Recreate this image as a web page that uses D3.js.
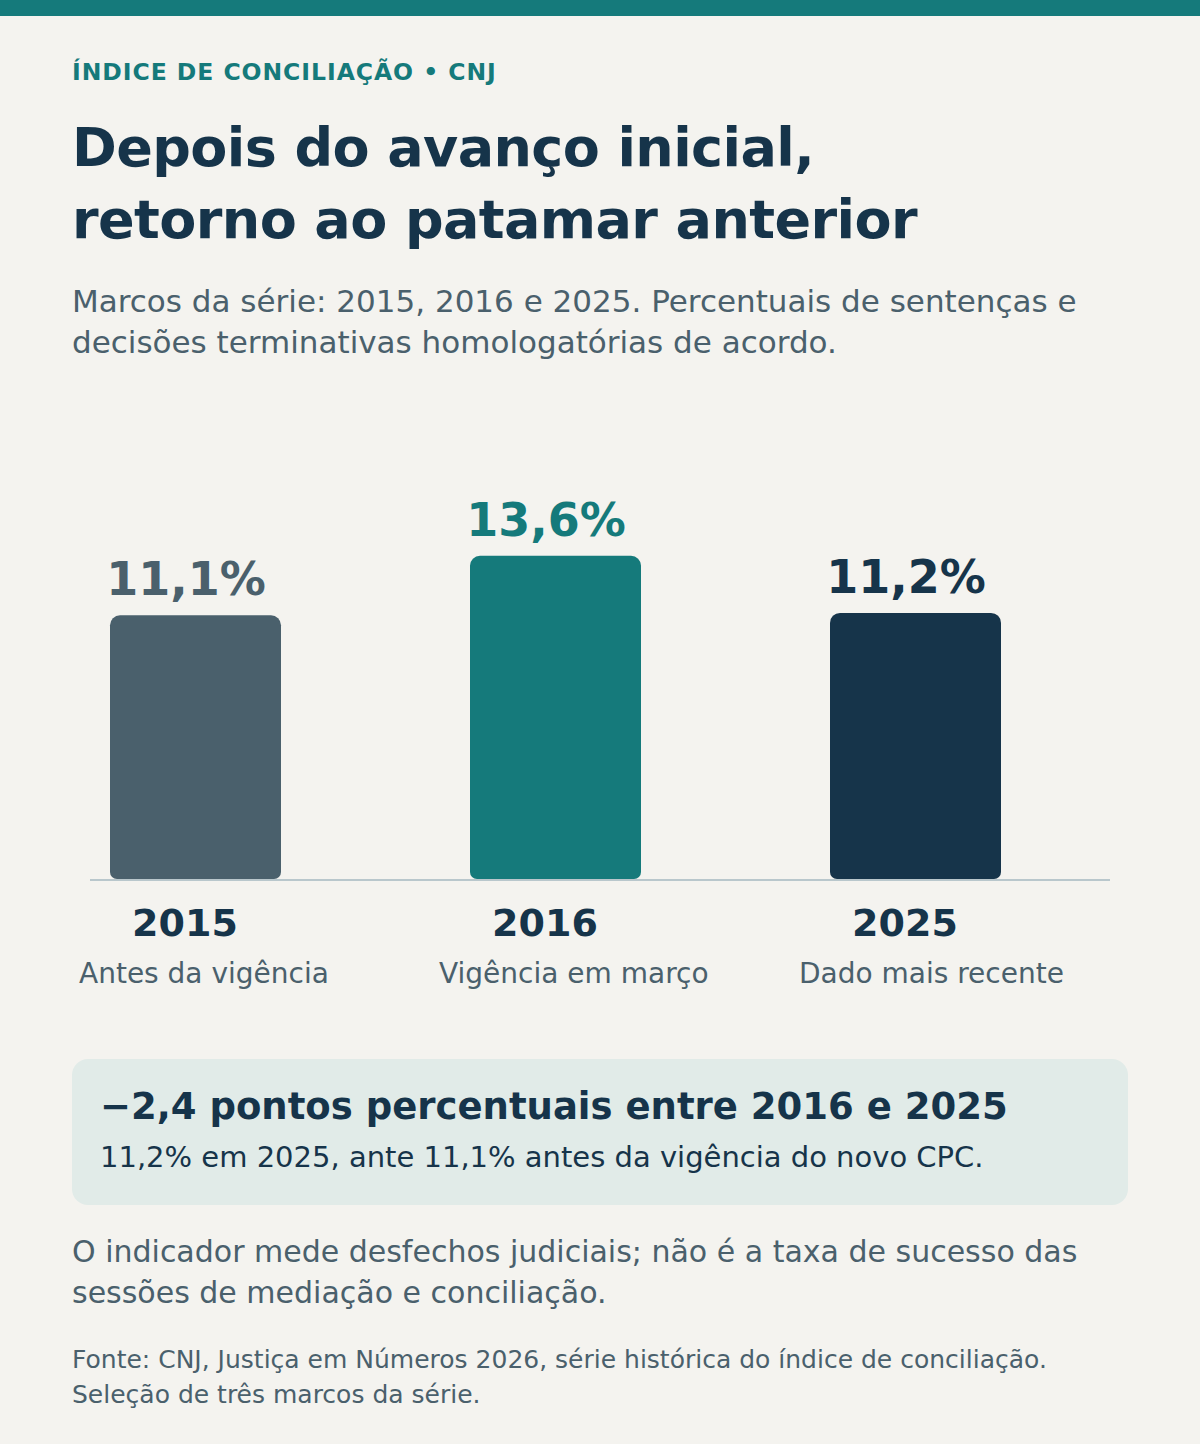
<!DOCTYPE html>
<html lang="pt-BR">
<head>
<meta charset="utf-8">
<script src="https://cdn.jsdelivr.net/npm/d3@7"></script>
<style>
  html, body { margin: 0; padding: 0; background: #f4f3ef; }
  svg { display: block; font-family: "DejaVu Sans", sans-serif; }
</style>
</head>
<body>
<script>
// ---- data ----
const years = ["2015", "2016", "2025"];
const values = [11.1, 13.6, 11.2];
const subLabels = ["Antes da vigência", "Vigência em março", "Dado mais recente"];
const barColors = ["#4a606c", "#157a7b", "#16344a"];

const kicker = "ÍNDICE DE CONCILIAÇÃO • CNJ";
const titleLines = ["Depois do avanço inicial,", "retorno ao patamar anterior"];
const subtitleLines = [
  "Marcos da série: 2015, 2016 e 2025. Percentuais de sentenças e",
  "decisões terminativas homologatórias de acordo."
];
const noteLines = [
  "O indicador mede desfechos judiciais; não é a taxa de sucesso das",
  "sessões de mediação e conciliação."
];
const sourceLines = [
  "Fonte: CNJ, Justiça em Números 2026, série histórica do índice de conciliação.",
  "Seleção de três marcos da série."
];

const W = 1200, H = 1444;
const fmt = v => v.toFixed(1).replace(".", ",");

const svg = d3.select("body").append("svg")
  .attr("width", W).attr("height", H).attr("viewBox", `0 0 ${W} ${H}`);

svg.append("rect").attr("width", W).attr("height", H).attr("fill", "#f4f3ef");
svg.append("rect").attr("width", W).attr("height", 16).attr("fill", "#157a7b");

// header
svg.append("text").attr("x", 72).attr("y", 80)
  .attr("font-size", 23.5).attr("font-weight", "bold").attr("letter-spacing", "0.95px")
  .attr("fill", "#157a7b").text(kicker);

svg.append("g").selectAll("text").data(titleLines).join("text")
  .attr("x", 72).attr("y", (d, i) => 166 + i * 72)
  .attr("font-size", 54).attr("font-weight", "bold").attr("letter-spacing", "-0.6px")
  .attr("fill", "#16344a").text(d => d);

svg.append("g").selectAll("text").data(subtitleLines).join("text")
  .attr("x", 72).attr("y", (d, i) => 312 + i * 41)
  .attr("font-size", 31).attr("fill", "#4a606c").text(d => d);

// chart
const baseY = 879;
const x = d3.scaleBand().domain(years).range([15.5, 1095.5])
  .paddingInner(0.525).paddingOuter(0.2625);
const y = d3.scaleLinear().domain([0, 15]).range([baseY, baseY - 15 * 23.76]);

function barPath(x0, y0, w, h, rt, rb) {
  const x1 = x0 + w, y1 = y0 + h;
  return `M${x0},${y0 + rt}
    A${rt},${rt} 0 0 1 ${x0 + rt},${y0}
    L${x1 - rt},${y0}
    A${rt},${rt} 0 0 1 ${x1},${y0 + rt}
    L${x1},${y1 - rb}
    A${rb},${rb} 0 0 1 ${x1 - rb},${y1}
    L${x0 + rb},${y1}
    A${rb},${rb} 0 0 1 ${x0},${y1 - rb}Z`;
}

const data = years.map((yr, i) => ({ year: yr, value: values[i], sub: subLabels[i], color: barColors[i] }));

const g = svg.append("g");
g.selectAll("path.bar").data(data).join("path")
  .attr("class", "bar")
  .attr("fill", d => d.color)
  .attr("d", d => barPath(x(d.year), y(d.value), x.bandwidth(), baseY - y(d.value), 10, 7));

svg.append("line").attr("x1", 90).attr("x2", 1110).attr("y1", 880).attr("y2", 880)
  .attr("stroke", "#b9c7cc").attr("stroke-width", 2);

g.selectAll("text.val").data(data).join("text")
  .attr("class", "val")
  .attr("x", d => x(d.year) + x.bandwidth() / 2 - 9.5)
  .attr("y", d => y(d.value) - 20)
  .attr("text-anchor", "middle")
  .attr("font-size", 46).attr("font-weight", "bold")
  .attr("fill", d => d.color)
  .text(d => fmt(d.value) + "%");

g.selectAll("text.yr").data(data).join("text")
  .attr("class", "yr")
  .attr("x", d => x(d.year) + x.bandwidth() / 2 - 10.5)
  .attr("y", 936)
  .attr("text-anchor", "middle")
  .attr("font-size", 38).attr("font-weight", "bold")
  .attr("fill", "#16344a")
  .text(d => d.year);

g.selectAll("text.sub").data(data).join("text")
  .attr("class", "sub")
  .attr("x", d => x(d.year) - 31)
  .attr("y", 983)
  .attr("font-size", 28).attr("fill", "#4a606c")
  .text(d => d.sub);

// callout
const delta = values[2] - values[1];
svg.append("rect").attr("x", 72).attr("y", 1059).attr("width", 1056).attr("height", 146)
  .attr("rx", 16).attr("fill", "#e1ebe8");
svg.append("text").attr("x", 100).attr("y", 1119)
  .attr("font-size", 37).attr("font-weight", "bold").attr("fill", "#16344a")
  .text(`${delta < 0 ? "\u2212" : "+"}${fmt(Math.abs(delta))} pontos percentuais entre ${years[1]} e ${years[2]}`);
svg.append("text").attr("x", 100).attr("y", 1167)
  .attr("font-size", 29).attr("fill", "#16344a")
  .text(`${fmt(values[2])}% em ${years[2]}, ante ${fmt(values[0])}% antes da vigência do novo CPC.`);

// notes
svg.append("g").selectAll("text").data(noteLines).join("text")
  .attr("x", 72).attr("y", (d, i) => 1262 + i * 41)
  .attr("font-size", 30).attr("fill", "#4a606c").text(d => d);

svg.append("g").selectAll("text").data(sourceLines).join("text")
  .attr("x", 72).attr("y", (d, i) => 1368 + i * 34.5)
  .attr("font-size", 25).attr("fill", "#4a606c").text(d => d);
</script>
</body>
</html>
